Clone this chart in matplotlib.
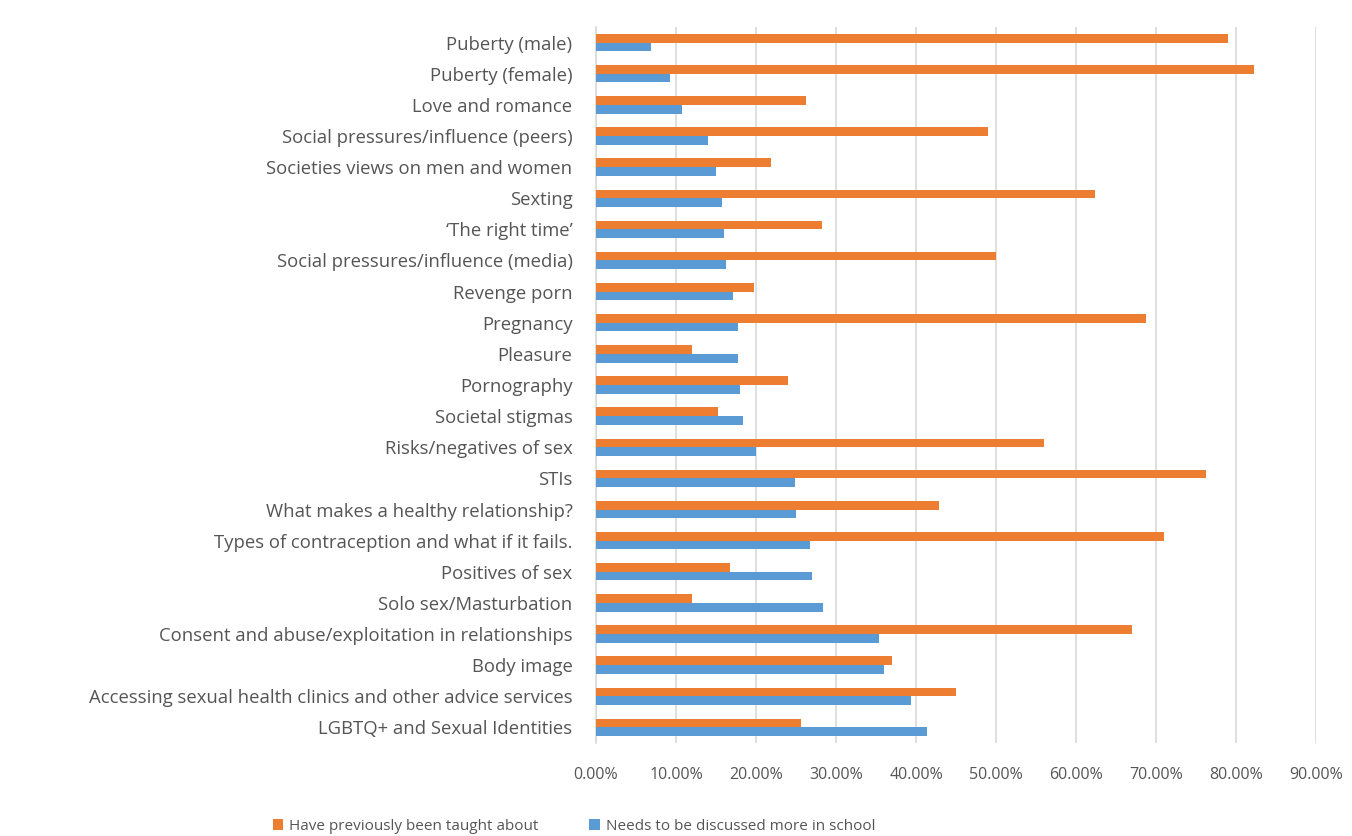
import numpy as np
import matplotlib
matplotlib.use("Agg")
import matplotlib.pyplot as plt
from matplotlib.ticker import FuncFormatter

topics = [
    "Puberty (male)",
    "Puberty (female)",
    "Love and romance",
    "Social pressures/influence (peers)",
    "Societies views on men and women",
    "Sexting",
    "\u2018The right time\u2019",
    "Social pressures/influence (media)",
    "Revenge porn",
    "Pregnancy",
    "Pleasure",
    "Pornography",
    "Societal stigmas",
    "Risks/negatives of sex",
    "STIs",
    "What makes a healthy relationship?",
    "Types of contraception and what if it fails.",
    "Positives of sex",
    "Solo sex/Masturbation",
    "Consent and abuse/exploitation in relationships",
    "Body image",
    "Accessing sexual health clinics and other advice services",
    "LGBTQ+ and Sexual Identities",
]

taught = [79.0, 82.2, 26.3, 49.0, 21.9, 62.4, 28.3, 50.0, 19.8, 68.7, 12.0, 24.0,
          15.3, 56.0, 76.2, 42.9, 71.0, 16.8, 12.0, 67.0, 37.0, 45.0, 25.6]
needs_more = [6.9, 9.3, 10.7, 14.0, 15.0, 15.7, 16.0, 16.3, 17.1, 17.7, 17.7, 18.0,
              18.4, 20.0, 24.9, 25.0, 26.8, 27.0, 28.4, 35.4, 36.0, 39.4, 41.4]

series_names = ["Have previously been taught about", "Needs to be discussed more in school"]
orange = "#ED7D31"
blue = "#5B9BD5"
text_col = "#555555"
grid_col = "#D9D9D9"

plt.rcParams['font.family'] = ['Open Sans', 'DejaVu Sans']

fig = plt.figure(figsize=(13.52, 8.36), dpi=100)
ax = fig.add_axes([596 / 1352, 1 - 743 / 836, 720 / 1352, 716 / 836])

y = np.arange(len(topics))
h = 0.28
ax.barh(y - h / 2, taught, height=h, color=orange, label=series_names[0], zorder=3)
ax.barh(y + h / 2, needs_more, height=h, color=blue, label=series_names[1], zorder=3)

ax.set_ylim(len(topics) - 0.5, -0.5)
ax.set_xlim(0, 90)
ax.set_xticks(np.arange(0, 91, 10))
ax.xaxis.set_major_formatter(FuncFormatter(lambda v, p: f"{v:.2f}%"))
ax.set_yticks(y)
ax.set_yticklabels(topics)

ax.grid(axis="x", color=grid_col, linewidth=1.2, zorder=0)
for s in ["top", "right", "bottom"]:
    ax.spines[s].set_visible(False)
ax.spines["left"].set_color(grid_col)
ax.spines["left"].set_linewidth(1.2)
ax.tick_params(axis="x", length=0, pad=17, labelsize=11.5, labelcolor=text_col)
ax.tick_params(axis="y", length=0, pad=17, labelsize=13.3, labelcolor=text_col)

# legend row under the tick labels
handles, labels = ax.get_legend_handles_labels()
fig.legend(handles, labels, loc="center", bbox_to_anchor=(574 / 1352, 1 - 826 / 836),
           ncol=2, frameon=False, fontsize=11, labelcolor=text_col,
           handlelength=0.7, handleheight=0.7, handletextpad=0.4, columnspacing=3.3)

fig.savefig("out.png", dpi=100, facecolor="white")
